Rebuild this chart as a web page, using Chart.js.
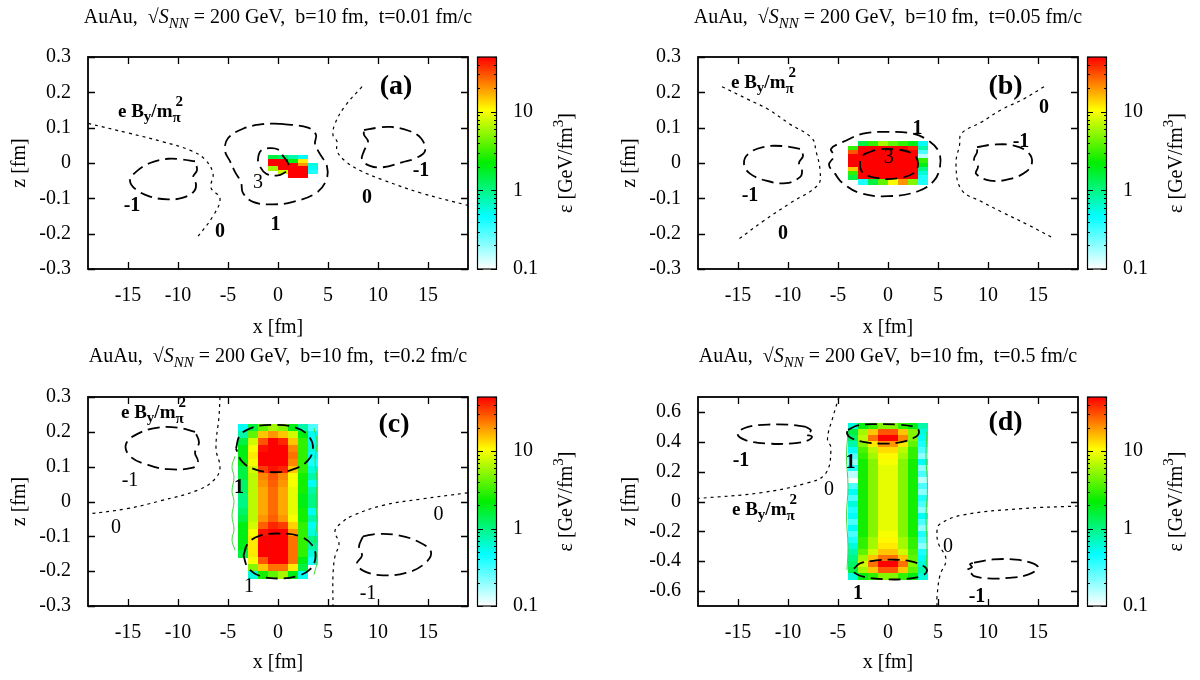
<!DOCTYPE html>
<html>
<head>
<meta charset="utf-8">
<title>AuAu b=10 fm: energy density and B field</title>
<script src="https://cdn.jsdelivr.net/npm/chart.js@4.4.1/dist/chart.umd.min.js"></script>
<style>
  html, body { margin: 0; padding: 0; background: #fff; }
  #wrap { position: relative; width: 1200px; height: 680px; }
  #wrap canvas { position: absolute; }
</style>
</head>
<body>
<div id="wrap">
  <canvas id="panelA" width="600" height="340" style="left:0;top:0"></canvas>
  <canvas id="panelB" width="600" height="340" style="left:600px;top:0"></canvas>
  <canvas id="panelC" width="600" height="340" style="left:0;top:340px"></canvas>
  <canvas id="panelD" width="600" height="340" style="left:600px;top:340px"></canvas>
</div>
<script>
// ---- axes ----
const xTicks = [-15, -10, -5, 0, 5, 10, 15];
const zTicksNarrow = [-0.3, -0.2, -0.1, 0, 0.1, 0.2, 0.3];
const zTicksWide = [-0.6, -0.4, -0.2, 0, 0.2, 0.4, 0.6];
const epsTicks = [0.1, 1, 10];
const times = ["0.01", "0.05", "0.2", "0.5"];

// ---- energy density eps [GeV/fm^3], rows from top z down, columns from x0 ----
const gridA = { x0: -2, dx: 1, z0: 0.02, dz: 0.01 };
const heatA = [
  [0, 1.5, 1.2, 0.8, 0.5, 0],
  [0, 50, 50, 2, 12, 0],
  [0, 50, 50, 50, 20, 0.6],
  [0, 6, 50, 50, 50, 0.5],
  [0, 0, 8, 50, 50, 0.4],
  [0, 0, 0, 50, 50, 0]
];

const gridB = { x0: -4, dx: 1, z0: 0.06, dz: 0.012 };
const heatB = [
  [0, 1.5, 3, 6, 4, 3, 2, 0.5],
  [3, 50, 50, 50, 50, 50, 40, 0.8],
  [30, 50, 50, 50, 50, 50, 50, 0.3],
  [50, 50, 50, 50, 50, 50, 50, 0.15],
  [50, 50, 50, 50, 50, 50, 50, 3],
  [50, 50, 50, 50, 50, 50, 50, 2],
  [15, 50, 50, 50, 50, 50, 50, 1],
  [3, 50, 50, 50, 50, 50, 50, 0.6],
  [1.5, 50, 50, 50, 50, 50, 50, 0.4],
  [0, 0.4, 1.5, 4, 10, 20, 5, 0.4]
];

const gridC = { x0: -4, dx: 1, z0: 0.22, dz: 0.02 };
const heatC = [
  [0.5, 1.5, 4, 6, 5, 2, 0.8, 0.3],
  [0.8, 4, 15, 20, 15, 8, 2, 0.5],
  [1.5, 8, 30, 50, 40, 15, 3, 0.5],
  [2, 10, 45, 50, 50, 22, 3, 0.6],
  [2, 12, 50, 50, 50, 25, 3, 0.5],
  [2, 10, 50, 50, 50, 22, 3, 0.4],
  [1.5, 8, 35, 45, 40, 15, 3, 0.6],
  [1.5, 7, 22, 30, 22, 10, 2.5, 0.8],
  [1.2, 7, 20, 28, 20, 10, 2.5, 0.5],
  [1.2, 7, 18, 26, 18, 9, 2.5, 0.8],
  [1, 7, 18, 26, 18, 9, 2, 1],
  [1, 7, 18, 26, 18, 9, 2, 1],
  [1.2, 7, 18, 26, 18, 9, 2.5, 0.5],
  [1.5, 7, 20, 28, 20, 10, 2.5, 0.8],
  [2, 8, 28, 40, 35, 14, 3, 0.5],
  [2, 10, 45, 50, 50, 20, 3, 0.6],
  [2, 12, 50, 50, 50, 25, 3, 1],
  [2, 12, 50, 50, 50, 25, 3, 0.8],
  [1.5, 12, 50, 50, 50, 25, 3, 0.6],
  [0, 10, 30, 50, 50, 25, 2, 0.4],
  [0, 5, 15, 25, 25, 12, 1.5, 0],
  [0, 0.6, 2.5, 4, 6, 2, 0.5, 0]
];

const gridD = { x0: -4, dx: 1, z0: 0.52, dz: 0.04 };
const heatD = [
  [0.6, 2, 3, 5, 5, 3, 2, 0.8],
  [1.5, 6, 15, 30, 30, 15, 5, 0.6],
  [1.2, 7, 25, 50, 50, 22, 5, 0.5],
  [0.8, 5, 12, 20, 20, 12, 4, 0.4],
  [0.5, 3.5, 7, 13, 13, 7, 3, 0.3],
  [0.3, 3, 6, 11, 11, 6, 3, 0.2],
  [0.2, 2.5, 5, 10, 10, 5, 2.5, 0.5],
  [0.4, 2.5, 5, 9, 9, 5, 2.5, 0.2],
  [0.15, 2.5, 5, 9, 9, 5, 2.5, 0.3],
  [0, 2.5, 5, 9, 9, 5, 2.5, 0.15],
  [0.3, 2.5, 5, 9, 9, 5, 2.5, 0.3],
  [0.5, 2.5, 5, 9, 9, 5, 2.5, 0.2],
  [0.3, 2.5, 5, 9, 9, 5, 2.5, 0.4],
  [0.6, 2.5, 5, 9, 9, 5, 2.5, 0.3],
  [0.4, 2.5, 5, 9, 9, 5, 2.5, 0.2],
  [0.5, 2.5, 5, 9, 9, 5, 2.5, 0.5],
  [0.3, 2.5, 5, 9, 9, 5, 2.5, 0.3],
  [0.5, 2.5, 5, 9, 9, 5, 2.5, 0.2],
  [0.3, 2.5, 5, 10, 10, 5, 2.5, 0.4],
  [0.4, 3, 6, 11, 11, 6, 3, 0.3],
  [0.6, 3, 6, 12, 12, 6, 3, 0.2],
  [0.8, 4, 8, 15, 15, 8, 3.5, 0.4],
  [1, 6, 15, 25, 25, 15, 4, 0.5],
  [1.2, 8, 25, 50, 50, 25, 5, 0.6],
  [1.5, 6, 15, 30, 30, 15, 4, 0.8],
  [0.6, 2, 3, 5, 5, 3, 2, 0.6]
];

// ---- contours of e B_y / m_pi^2 (lvl "0" dotted, others dashed, "eps" thin green) ----
const fieldA = [
  { lvl: "0", pts: [[-19, 0.112], [-15, 0.085], [-11.5, 0.06], [-8.7, 0.035], [-7.3, 0.01], [-6.5, -0.03], [-6.7, -0.07], [-5.8, -0.1], [-6.5, -0.15], [-8.2, -0.215]] },
  { lvl: "0", pts: [[8.4, 0.216], [6.7, 0.161], [5.7, 0.111], [5.5, 0.079], [5.9, 0.061], [5.9, 0.034], [6.7, 0.006], [8.2, -0.021], [10.5, -0.048], [14.3, -0.085], [19, -0.12]] },
  { lvl: "-1", pts: [[-8.3, 0.005], [-9.6, 0.01], [-11, 0.012], [-12.8, 0.0], [-14.2, -0.025], [-14.8, -0.05], [-14.2, -0.075], [-12.8, -0.095], [-11, -0.103], [-9.5, -0.098], [-8.4, -0.08], [-8.2, -0.06], [-8.5, -0.04], [-8.1, -0.02], [-8.3, 0.005]] },
  { lvl: "1", pts: [[0.3, 0.111], [3.0, 0.1], [3.8, 0.08], [3.7, 0.055], [4.1, 0.03], [4.9, -0.01], [4.8, -0.05], [3.8, -0.085], [1.5, -0.11], [-0.5, -0.117], [-2.5, -0.11], [-3.5, -0.085], [-3.7, -0.055], [-4.3, -0.025], [-4.8, 0.005], [-5.3, 0.035], [-5.0, 0.07], [-3.5, 0.097], [-1.5, 0.11], [0.3, 0.111]] },
  { lvl: "3", pts: [[0.8, -0.025], [0.0, -0.035], [-1.2, -0.03], [-1.8, -0.01], [-2.0, 0.01], [-1.7, 0.035], [-0.8, 0.042], [0.0, 0.038], [0.5, 0.02], [1.0, 0.0], [1.1, -0.02]] },
  { lvl: "-1", pts: [[8.6, 0.093], [10, 0.1], [11.3, 0.102], [13, 0.092], [14.3, 0.07], [14.7, 0.034], [13.8, 0.014], [12.4, 0.002], [10.5, -0.012], [9.2, -0.008], [8.4, 0.01], [8.6, 0.034], [9.0, 0.061], [8.6, 0.08], [8.6, 0.093]] }
];
const fieldB = [
  { lvl: "0", pts: [[-16.6, 0.216], [-14, 0.18], [-12, 0.152], [-9.8, 0.11], [-7.6, 0.07], [-7.2, 0.034], [-6.8, -0.021], [-7.0, -0.062], [-9.7, -0.112], [-12.5, -0.165], [-15, -0.217]] },
  { lvl: "0", pts: [[15.6, 0.216], [13.5, 0.18], [11.4, 0.152], [9.3, 0.115], [7.35, 0.084], [7.16, 0.052], [6.8, -0.003], [7.35, -0.076], [9.4, -0.11], [11.4, -0.139], [14, -0.175], [16.5, -0.212]] },
  { lvl: "-1", pts: [[-8.8, 0.04], [-10.5, 0.048], [-12.5, 0.045], [-14, 0.025], [-14.4, -0.003], [-13.8, -0.03], [-12.2, -0.05], [-10.2, -0.057], [-8.8, -0.04], [-8.6, -0.02], [-8.9, 0], [-8.5, 0.02], [-8.8, 0.04]] },
  { lvl: "-1", pts: [[8.9, 0.045], [10.5, 0.052], [12.5, 0.05], [14, 0.03], [14.4, 0.002], [13.8, -0.025], [12.2, -0.045], [10.2, -0.05], [8.8, -0.03], [9.0, -0.01], [8.6, 0.01], [8.9, 0.03], [8.9, 0.045]] },
  { lvl: "1", pts: [[-4.5, 0.06], [-2.5, 0.083], [0, 0.088], [2.5, 0.083], [4.2, 0.06], [5.1, 0.03], [5.2, -0.01], [4.6, -0.05], [3, -0.08], [0, -0.094], [-2.8, -0.085], [-4.6, -0.055], [-5.3, -0.03], [-5.9, -0.005], [-5.4, 0.02], [-5.7, 0.04], [-4.5, 0.06]] },
  { lvl: "3", pts: [[-2.4, 0.025], [-1, 0.038], [1, 0.038], [2.5, 0.025], [3, 0], [2.6, -0.028], [1, -0.043], [-1, -0.043], [-2.5, -0.028], [-2.8, 0], [-2.4, 0.025]] }
];
const fieldC = [
  { lvl: "0", pts: [[-5.8, 0.3], [-5.9, 0.244], [-6.2, 0.152], [-5.8, 0.098], [-6.3, 0.065], [-7.9, 0.034], [-11.75, 0.002], [-15.2, -0.021], [-19, -0.036]] },
  { lvl: "0", pts: [[19, 0.025], [14.3, 0.007], [10.5, -0.011], [7.5, -0.04], [6.4, -0.06], [5.7, -0.084], [6.1, -0.121], [5.7, -0.157], [5.5, -0.212], [5.5, -0.3]] },
  { lvl: "-1", pts: [[-8.3, 0.2], [-10, 0.212], [-12, 0.212], [-14, 0.195], [-15.2, 0.165], [-14.8, 0.13], [-13, 0.105], [-11, 0.093], [-8.5, 0.097], [-8.0, 0.115], [-8.3, 0.14], [-7.9, 0.17], [-8.3, 0.2]] },
  { lvl: "-1", pts: [[8.5, -0.1], [10, -0.093], [12, -0.097], [14, -0.115], [15.3, -0.145], [14.6, -0.18], [12.8, -0.205], [10.5, -0.212], [8.6, -0.2], [7.9, -0.178], [8.4, -0.155], [8.1, -0.13], [8.5, -0.1]] },
  { lvl: "1", pts: [[-4.2, 0.152], [-3.8, 0.19], [-2.5, 0.213], [-0.4, 0.22], [1.7, 0.213], [3.0, 0.19], [3.5, 0.155], [3.0, 0.118], [1.5, 0.092], [-0.4, 0.084], [-2.3, 0.092], [-3.6, 0.115], [-4.2, 0.152]] },
  { lvl: "1", pts: [[-3.45, -0.155], [-3.0, -0.12], [-1.8, -0.098], [0.2, -0.092], [2.2, -0.1], [3.4, -0.125], [3.75, -0.16], [3.2, -0.195], [1.8, -0.215], [0, -0.221], [-1.8, -0.214], [-3.0, -0.19], [-3.45, -0.155]] },
  { lvl: "eps", pts: [[-4.3, 0.13], [-4.6, 0.1], [-4.4, 0.07], [-4.6, 0.03], [-4.4, 0], [-4.6, -0.04], [-4.4, -0.08], [-4.6, -0.11], [-4.3, -0.14]] },
  { lvl: "eps", pts: [[3.6, 0.21], [3.9, 0.17], [3.7, 0.12], [3.9, 0.06], [3.8, 0], [3.9, -0.06], [3.7, -0.12], [3.9, -0.17], [3.6, -0.21]] }
];
const fieldD = [
  { lvl: "0", pts: [[-4.9, 0.7], [-5.5, 0.568], [-6.05, 0.42], [-5.7, 0.356], [-6.25, 0.186], [-8.2, 0.122], [-12.8, 0.058], [-19, 0.02]] },
  { lvl: "0", pts: [[19, -0.03], [13.3, -0.048], [7.5, -0.09], [5.2, -0.15], [4.9, -0.2], [5.05, -0.282], [5.8, -0.388], [5.2, -0.494], [4.9, -0.64], [4.9, -0.7]] },
  { lvl: "-1", pts: [[-8.2, 0.5], [-10, 0.515], [-12, 0.515], [-14, 0.5], [-15.05, 0.455], [-14.2, 0.41], [-12, 0.388], [-9.5, 0.39], [-8, 0.41], [-7.6, 0.435], [-8.2, 0.45], [-7.7, 0.475], [-8.2, 0.5]] },
  { lvl: "-1", pts: [[8.6, -0.41], [10.5, -0.388], [12.8, -0.39], [14.5, -0.415], [15, -0.445], [14, -0.49], [12, -0.512], [10, -0.515], [8.6, -0.5], [8.3, -0.48], [7.9, -0.46], [8.4, -0.44], [8.2, -0.42], [8.6, -0.41]] },
  { lvl: "1", pts: [[-4.0, 0.48], [-3.0, 0.51], [-1, 0.518], [1, 0.515], [2.6, 0.5], [3.1, 0.47], [2.7, 0.43], [1, 0.395], [-0.7, 0.388], [-2.5, 0.4], [-3.7, 0.425], [-4.1, 0.455], [-4.0, 0.48]] },
  { lvl: "1", pts: [[-3.4, -0.45], [-2.8, -0.415], [-1.2, -0.395], [0.5, -0.39], [2.2, -0.4], [3.5, -0.43], [3.9, -0.465], [3.3, -0.5], [1.5, -0.52], [-0.5, -0.52], [-2.4, -0.505], [-3.3, -0.48], [-3.4, -0.45]] },
  { lvl: "eps", pts: [[-4.0, 0.47], [-4.15, 0.3], [-4.0, 0.1], [-4.15, -0.1], [-4.0, -0.3], [-4.1, -0.46]] },
  { lvl: "eps", pts: [[3.9, 0.47], [3.8, 0.3], [3.95, 0.1], [3.8, -0.1], [3.9, -0.3], [3.8, -0.46]] }
];

// contour level labels: text, x, z, bold
const levelsA = [["-1", -14.6, -0.121, 1], ["0", -5.8, -0.194, 1], ["3", -2.0, -0.057, 0], ["1", -0.25, -0.176, 1], ["0", 8.9, -0.098, 1], ["-1", 14.3, -0.021, 1]];
const levelsB = [["1", 2.95, 0.098, 1], ["3", 0.07, 0.016, 0], ["-1", -13.8, -0.094, 1], ["0", -10.5, -0.2, 1], ["0", 15.6, 0.157, 1], ["-1", 13.3, 0.061, 1]];
const levelsC = [["-1", -14.8, 0.061, 0], ["1", -3.9, 0.039, 1], ["0", -16.2, -0.075, 0], ["1", -2.9, -0.244, 0], ["0", 16.05, -0.039, 0], ["-1", 9.0, -0.266, 0]];
const levelsD = [["-1", -14.7, 0.27, 1], ["1", -3.75, 0.26, 1], ["0", -5.9, 0.08, 0], ["0", 6.0, -0.3, 0], ["1", -3.0, -0.62, 1], ["-1", 8.9, -0.64, 1]];

// ---- look ----
const SERIF = '"Liberation Serif", "Times New Roman", Times, serif';
const axisFont = { family: SERIF, size: 20 };
Chart.defaults.font.family = SERIF;
Chart.defaults.font.size = 20;
Chart.defaults.color = '#000';

const EPS_MIN = 0.1, EPS_MAX = 50;
// white -> cyan -> green -> yellow -> red, evenly spaced in log(eps)
const palette = [[255, 255, 255], [0, 255, 255], [0, 238, 0], [255, 255, 0], [255, 0, 0]];

function epsColor(v) {
  let t = Math.log(v / EPS_MIN) / Math.log(EPS_MAX / EPS_MIN);
  t = Math.min(1, Math.max(0, t)) * (palette.length - 1);
  const i = Math.min(Math.floor(t), palette.length - 2);
  const f = t - i;
  const a = palette[i], b = palette[i + 1];
  return 'rgb(' + [0, 1, 2].map(k => Math.round(a[k] + (b[k] - a[k]) * f)).join(',') + ')';
}

// text made of pieces with their own font and vertical shift
function drawRich(ctx, parts, x, y, align) {
  let w = 0;
  parts.forEach(p => { ctx.font = p.f; if (!p.keep) w += ctx.measureText(p.t).width; });
  let cx = align === 'center' ? x - w / 2 : x;
  parts.forEach(p => {
    ctx.font = p.f;
    ctx.fillText(p.t, cx + (p.dx || 0), y + (p.dy || 0));
    if (!p.keep) cx += ctx.measureText(p.t).width;
  });
}

const heatPlugin = {
  id: 'heat',
  beforeDatasetsDraw(chart, args, opts) {
    const g = opts.grid;
    if (!g) return;
    const { ctx, chartArea: a, scales: { x, y } } = chart;
    ctx.save();
    ctx.beginPath();
    ctx.rect(a.left, a.top, a.right - a.left, a.bottom - a.top);
    ctx.clip();
    opts.rows.forEach((row, r) => {
      const zTop = g.z0 - r * g.dz;
      const py0 = Math.floor(y.getPixelForValue(zTop));
      const py1 = Math.ceil(y.getPixelForValue(zTop - g.dz));
      row.forEach((v, c) => {
        if (!(v > 0)) return;
        const px0 = Math.floor(x.getPixelForValue(g.x0 + c * g.dx));
        const px1 = Math.ceil(x.getPixelForValue(g.x0 + (c + 1) * g.dx));
        ctx.fillStyle = epsColor(v);
        ctx.fillRect(px0, py0, px1 - px0, py1 - py0);
      });
    });
    ctx.restore();
  }
};

const decoPlugin = {
  id: 'deco',
  afterDatasetsDraw(chart, args, o) {
    const { ctx, chartArea: a, scales: { x, y, cb } } = chart;
    ctx.save();
    ctx.strokeStyle = '#000';
    ctx.fillStyle = '#000';

    // inward ticks on all four sides
    ctx.lineWidth = 1.3;
    ctx.beginPath();
    x.ticks.forEach(t => {
      const px = Math.round(x.getPixelForValue(t.value)) + 0.5;
      ctx.moveTo(px, a.bottom); ctx.lineTo(px, a.bottom - 7);
      ctx.moveTo(px, a.top); ctx.lineTo(px, a.top + 7);
    });
    y.ticks.forEach(t => {
      const py = Math.round(y.getPixelForValue(t.value)) + 0.5;
      ctx.moveTo(a.left, py); ctx.lineTo(a.left + 7, py);
      ctx.moveTo(a.right, py); ctx.lineTo(a.right - 7, py);
    });
    ctx.stroke();

    // plot frame
    ctx.lineWidth = 1.8;
    ctx.strokeRect(a.left, a.top, a.right - a.left, a.bottom - a.top);

    // colour box
    const cx0 = a.right + 9, cx1 = a.right + 29;
    const yLo = cb.getPixelForValue(EPS_MIN), yHi = cb.getPixelForValue(EPS_MAX);
    const grad = ctx.createLinearGradient(0, yLo, 0, yHi);
    palette.forEach((c, i) => grad.addColorStop(i / (palette.length - 1), 'rgb(' + c.join(',') + ')'));
    ctx.fillStyle = grad;
    ctx.fillRect(cx0, yHi, cx1 - cx0, yLo - yHi);
    ctx.lineWidth = 1.2;
    ctx.strokeRect(cx0 + 0.5, yHi, cx1 - cx0 - 1, yLo - yHi);
    ctx.beginPath();
    [0.1, 1, 10].forEach(dec => {
      for (let m = 1; m <= 9; m++) {
        const v = m * dec;
        if (v > EPS_MAX + 1e-9) break;
        const py = Math.round(cb.getPixelForValue(v)) + 0.5;
        const len = m === 1 ? 6 : 3;
        ctx.moveTo(cx0, py); ctx.lineTo(cx0 + len, py);
        ctx.moveTo(cx1, py); ctx.lineTo(cx1 - len, py);
      }
    });
    ctx.stroke();

    ctx.fillStyle = '#000';
    // colour box title, rotated
    ctx.save();
    ctx.translate(a.right + 99, (a.top + a.bottom) / 2);
    ctx.rotate(-Math.PI / 2);
    ctx.textBaseline = 'middle';
    drawRich(ctx, [
      { t: 'ε [GeV/fm', f: '20px ' + SERIF },
      { t: '3', f: '15px ' + SERIF, dy: -8 },
      { t: ']', f: '20px ' + SERIF }
    ], 0, 0, 'center');
    ctx.restore();

    // panel title
    ctx.textBaseline = 'alphabetic';
    drawRich(ctx, [
      { t: 'AuAu,  √', f: '20px ' + SERIF },
      { t: 'S', f: 'italic 20px ' + SERIF },
      { t: 'NN', f: 'italic 15px ' + SERIF, dy: 5 },
      { t: ' = 200 GeV,  b=10 fm,  t=' + o.time + ' fm/c', f: '20px ' + SERIF }
    ], (a.left + a.right) / 2, o.titleBase, 'center');

    // field label
    const bx = x.getPixelForValue(o.bLabel[0]), by = y.getPixelForValue(o.bLabel[1]);
    const fb = 'bold 19px ' + SERIF, fs = 'bold 15px ' + SERIF;
    drawRich(ctx, [
      { t: 'e B', f: fb },
      { t: 'y', f: fs, dy: 4 },
      { t: '/m', f: fb },
      { t: 'π', f: fs, dy: 5, keep: true },
      { t: '2', f: fs, dy: -11, dx: 3 }
    ], bx, by, 'left');

    // panel tag
    ctx.textAlign = 'center';
    ctx.textBaseline = 'middle';
    ctx.font = 'bold 28px ' + SERIF;
    ctx.fillText(o.tag[0], x.getPixelForValue(o.tag[1]), y.getPixelForValue(o.tag[2]));

    // contour levels
    o.levels.forEach(l => {
      ctx.font = (l[3] ? 'bold ' : '') + '20px ' + SERIF;
      ctx.fillText(l[0], x.getPixelForValue(l[1]), y.getPixelForValue(l[2]));
    });
    ctx.restore();
  }
};

Chart.register(heatPlugin, decoPlugin);

function contourSets(field) {
  return field.map(c => {
    const dotted = c.lvl === '0', eps = c.lvl === 'eps';
    return {
      data: c.pts.map(p => ({ x: p[0], y: p[1] })),
      showLine: true,
      pointRadius: 0,
      fill: false,
      tension: 0.4,
      borderColor: eps ? '#3bd93b' : '#000',
      borderWidth: eps ? 1 : (dotted ? 1.2 : 1.8),
      borderDash: eps ? [] : (dotted ? [3, 4] : [12, 6])
    };
  });
}

function makePanel(id, p) {
  new Chart(document.getElementById(id), {
    type: 'scatter',
    data: { datasets: contourSets(p.field) },
    options: {
      responsive: false,
      animation: false,
      devicePixelRatio: 1,
      layout: { padding: { top: p.top, left: 0, right: 0, bottom: 0 } },
      plugins: {
        legend: { display: false },
        tooltip: { enabled: false },
        heat: { grid: p.grid, rows: p.heat },
        deco: { time: p.time, titleBase: p.titleBase, tag: p.tag, bLabel: p.bLabel, levels: p.levels }
      },
      scales: {
        x: {
          type: 'linear', position: 'bottom', min: -19, max: 19,
          grid: { display: false, drawTicks: false },
          border: { display: false },
          afterBuildTicks: s => { s.ticks = xTicks.map(v => ({ value: v })); },
          ticks: { font: axisFont, color: '#000', padding: 15, autoSkip: false, maxRotation: 0, callback: v => String(v) },
          title: { display: true, text: 'x [fm]', font: axisFont, color: '#000', padding: { top: 0, bottom: p.xTitlePad } },
          afterFit: s => { s.height = 340 - p.bottom; }
        },
        y: {
          type: 'linear', position: 'left', min: -p.zMax, max: p.zMax,
          grid: { display: false, drawTicks: false },
          border: { display: false },
          afterBuildTicks: s => { s.ticks = p.zTicks.map(v => ({ value: v })); },
          ticks: { font: axisFont, color: '#000', padding: 17, autoSkip: false, callback: v => String(v) },
          title: { display: true, text: 'z [fm]', font: axisFont, color: '#000', padding: { top: p.yTitlePad, bottom: 0 } },
          afterFit: s => { s.width = p.left; }
        },
        cb: {
          type: 'logarithmic', position: 'right', min: EPS_MIN, max: EPS_MAX,
          grid: { display: false, drawTicks: false },
          border: { display: false },
          afterBuildTicks: s => { s.ticks = epsTicks.map(v => ({ value: v })); },
          ticks: { font: axisFont, color: '#000', padding: 45, autoSkip: false, callback: v => String(v) },
          afterFit: s => { s.width = 600 - p.right; }
        }
      }
    }
  });
}

makePanel('panelA', { field: fieldA, heat: heatA, grid: gridA, levels: levelsA, time: times[0],
  tag: ['(a)', 11.8, 0.216], bLabel: [-16.0, 0.13], zMax: 0.3, zTicks: zTicksNarrow,
  left: 88, right: 468, top: 49, bottom: 269, titleBase: 23, xTitlePad: 0, yTitlePad: 8 });
makePanel('panelB', { field: fieldB, heat: heatB, grid: gridB, levels: levelsB, time: times[1],
  tag: ['(b)', 11.75, 0.216], bLabel: [-15.7, 0.212], zMax: 0.3, zTicks: zTicksNarrow,
  left: 98, right: 478, top: 49, bottom: 269, titleBase: 23, xTitlePad: 0, yTitlePad: 18 });
makePanel('panelC', { field: fieldC, heat: heatC, grid: gridC, levels: levelsC, time: times[2],
  tag: ['(c)', 11.6, 0.221], bLabel: [-15.7, 0.239], zMax: 0.3, zTicks: zTicksNarrow,
  left: 88, right: 468, top: 46, bottom: 266, titleBase: 22, xTitlePad: 5, yTitlePad: 8 });
makePanel('panelD', { field: fieldD, heat: heatD, grid: gridD, levels: levelsD, time: times[3],
  tag: ['(d)', 11.75, 0.526], bLabel: [-15.6, -0.09], zMax: 0.7, zTicks: zTicksWide,
  left: 98, right: 478, top: 46, bottom: 266, titleBase: 22, xTitlePad: 5, yTitlePad: 18 });
</script>
</body>
</html>
